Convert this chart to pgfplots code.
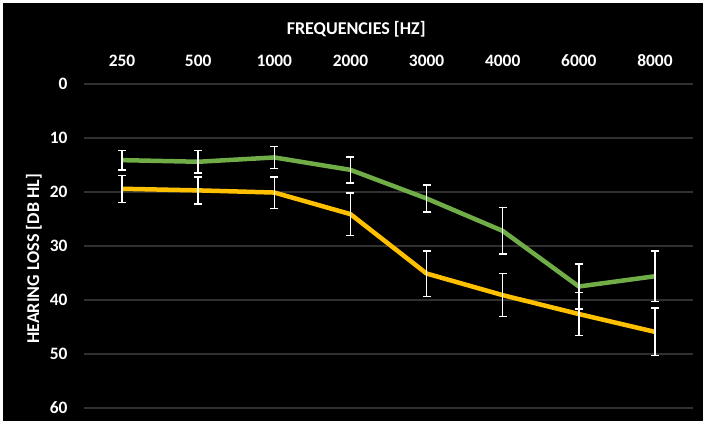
\documentclass[border=0pt]{standalone}
\usepackage{pgfplots}
\pgfplotsset{compat=1.18}
\usepackage{fontspec}
\setmainfont{Carlito}
\definecolor{cgreen}{HTML}{70AD47}
\definecolor{cyellow}{HTML}{FFC000}
\definecolor{cgrid}{HTML}{303030}
\begin{document}
\begin{tikzpicture}[x=1bp,y=1bp]
\useasboundingbox (0,0) rectangle (708,425);
\fill[white] (0,0) rectangle (708,425);
\fill[black] (3,4) rectangle (703,422);
\begin{axis}[
  at={(84bp,17bp)}, anchor=south west,
  scale only axis, width=609bp, height=324bp,
  xmin=-0.5, xmax=7.5, ymin=0, ymax=60,
  y dir=reverse,
  xtick={0,...,7},
  xticklabels={250,500,1000,2000,3000,4000,6000,8000},
  xticklabel pos=top,
  ytick={0,10,...,60},
  axis line style={draw=none},
  major tick length=0pt,
  ymajorgrids, grid style={cgrid, line width=2bp},
  ticklabel style={font=\bfseries\fontsize{17.4bp}{20bp}\selectfont, text=white},
  /pgf/number format/assume math mode=true,
  xticklabel style={anchor=base, yshift=18bp},
  yticklabel style={anchor=east, xshift=-13bp},
  title={FREQUENCIES [HZ]},
  title style={at={(axis description cs:0.447,1)}, anchor=center, yshift=49bp, text=white, font=\bfseries\fontsize{18bp}{20bp}\selectfont},
  ylabel={HEARING LOSS [DB HL]},
  every axis y label/.style={at={([xshift=-50bp]axis description cs:0,0.46)}, rotate=90, anchor=center, text=white, font=\bfseries\fontsize{18bp}{20bp}\selectfont},
  clip=false,
]
\addplot[cyellow, line width=4.5bp, line join=round,
  error bars/.cd, y dir=both, y explicit,
  error bar style={white, line width=1.4bp}, error mark options={white, line width=1.4bp, mark size=4bp, rotate=90}]
  coordinates {
  (0,19.4) +- (0,2.5)
  (1,19.7) +- (0,2.5)
  (2,20.1) +- (0,2.9)
  (3,24.1) +- (0,3.9)
  (4,35.1) +- (0,4.2)
  (5,39.1) +- (0,4.0)
  (6,42.6) +- (0,4.0)
  (7,45.9) +- (0,4.4)
  };
\addplot[cgreen, line width=4.5bp, line join=round,
  error bars/.cd, y dir=both, y explicit,
  error bar style={white, line width=1.4bp}, error mark options={white, line width=1.4bp, mark size=4bp, rotate=90}]
  coordinates {
  (0,14.1) +- (0,1.8)
  (1,14.4) +- (0,2.1)
  (2,13.6) +- (0,2.0)
  (3,15.9) +- (0,2.4)
  (4,21.2) +- (0,2.5)
  (5,27.2) +- (0,4.3)
  (6,37.5) +- (0,4.2)
  (7,35.6) +- (0,4.7)
  };
\end{axis}
\end{tikzpicture}
\end{document}
